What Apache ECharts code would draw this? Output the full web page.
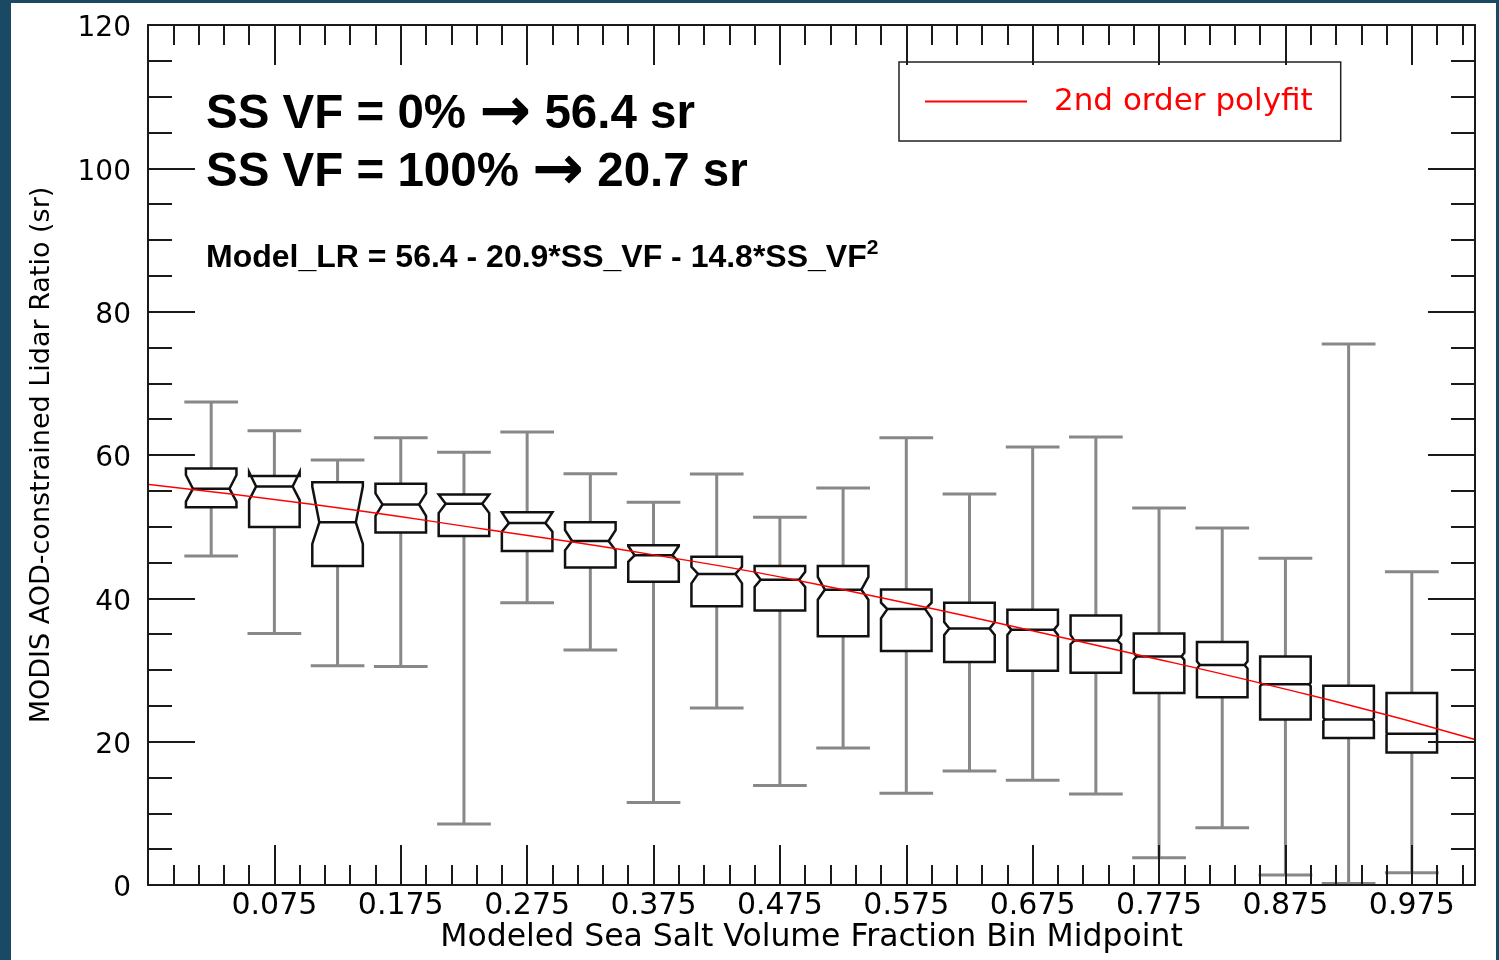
<!DOCTYPE html>
<html><head><meta charset="utf-8">
<script src="https://cdn.jsdelivr.net/npm/echarts@6/dist/echarts.min.js"></script>
<style>html,body{margin:0;padding:0;background:#fff}#c{width:1499px;height:960px}</style>
</head><body><div id="c"></div>
<script>
// ---- data ----
const binMid      = [0.025,0.075,0.125,0.175,0.225,0.275,0.325,0.375,0.425,0.475,0.525,0.575,0.625,0.675,0.725,0.775,0.825,0.875,0.925,0.975];
const whiskerLow  = [45.9, 35.1, 30.6, 30.5,  8.5, 39.4, 32.8, 11.5, 24.7, 13.9, 19.1, 12.8, 15.9, 14.6, 12.7,  3.8,  8.0,  1.4,  0.2,  1.7];
const q1          = [52.7, 49.95,44.5, 49.2, 48.7, 46.6, 44.3, 42.3, 38.9, 38.3, 34.7, 32.65,31.1, 29.9, 29.6, 26.8, 26.2, 23.1, 20.5, 18.5];
const median      = [55.3, 55.6, 50.6, 53.1, 53.2, 50.5, 48.0, 46.0, 43.4, 42.6, 41.2, 38.5, 35.8, 35.6, 34.1, 31.9, 30.7, 28.0, 23.1, 21.1];
const q3          = [58.1, 57.07,56.2, 56.0, 54.5, 52.0, 50.6, 47.4, 45.8, 44.5, 44.5, 41.25,39.4, 38.4, 37.6, 35.1, 33.9, 31.9, 27.8, 26.8];
const whiskerHigh = [67.4, 63.4, 59.3, 62.4, 60.4, 63.2, 57.4, 53.4, 57.35,51.3, 55.4, 62.4, 54.55,61.1, 62.5, 52.6, 49.8, 45.6, 75.5, 43.7];
const notchLow    = [53.5, 53.7, 47.6, 51.5, 51.9, 49.3, 46.7, 45.1, 42.1, 41.6, 39.8, 37.2, 34.9, 34.9, 33.6, 31.4, 30.2, 27.75,22.85,20.95];
const notchHigh   = [57.2, 57.6, 55.6, 54.65,54.5, 52.0, 49.5, 47.3, 44.4, 43.7, 43.0, 39.4, 36.7, 36.3, 34.9, 32.4, 31.2, 28.25,23.35,21.25];
const fitX = [-0.032, 0.106, 0.243, 0.374, 0.506, 0.759, 0.910, 1.025];
const fitY = [56.05, 53.1, 49.6, 46.1, 41.9, 32.1, 25.8, 20.3];
const fitName = '2nd order polyfit';
const xTitle = 'Modeled Sea Salt Volume Fraction Bin Midpoint';
const yTitle = 'MODIS AOD-constrained Lidar Ratio (sr)';
const note1 = ['SS VF = 0% ', '\u2192', ' 56.4 sr'];
const note2 = ['SS VF = 100% ', '\u2192', ' 20.7 sr'];
const note3 = 'Model_LR = 56.4 - 20.9*SS_VF - 14.8*SS_VF';

const boxData = binMid.map((x, i) => [x, whiskerLow[i], q1[i], median[i], q3[i], whiskerHigh[i], notchLow[i], notchHigh[i]]);
const fitData = fitX.map((x, i) => [x, fitY[i]]);

const TICK = '#1a1a1a';
const tickStyle = { color: TICK, width: 2 };
const xBase = { type: 'value', min: -0.025, max: 1.025, splitLine: { show: false }, z: 10 };
const yBase = { type: 'value', min: 0, max: 120, interval: 20, splitLine: { show: false }, z: 10 };

function renderBox(params, api) {
  const x = api.value(0);
  const c = v => api.coord([x, v]);
  const cx = c(api.value(1))[0];
  const yLow = c(api.value(1))[1], yQ1 = c(api.value(2))[1], yMed = c(api.value(3))[1];
  const yQ3 = c(api.value(4))[1], yHigh = c(api.value(5))[1];
  const yNlo = c(api.value(6))[1], yNhi = c(api.value(7))[1];
  const halfW = api.size([0.04, 0])[0] / 2;
  const capHalf = api.size([0.0425, 0])[0] / 2;
  const ind = Math.min(7, 0.8 * Math.abs(yNlo - yNhi) / 2);
  const L = cx - halfW, R = cx + halfW;
  const ws = { stroke: '#888888', lineWidth: 3 };
  const bs = { stroke: '#111111', lineWidth: 2.5, fill: '#ffffff' };
  return { type: 'group', children: [
    { type: 'line', shape: { x1: cx, y1: yQ3, x2: cx, y2: yHigh }, style: ws },
    { type: 'line', shape: { x1: cx - capHalf, y1: yHigh, x2: cx + capHalf, y2: yHigh }, style: ws },
    { type: 'line', shape: { x1: cx, y1: yQ1, x2: cx, y2: yLow }, style: ws },
    { type: 'line', shape: { x1: cx - capHalf, y1: yLow, x2: cx + capHalf, y2: yLow }, style: ws },
    { type: 'polygon', shape: { points: [[L, yQ1], [L, yNlo], [L + ind, yMed], [L, yNhi], [L, yQ3], [R, yQ3], [R, yNhi], [R - ind, yMed], [R, yNlo], [R, yQ1]] }, style: bs },
    { type: 'line', shape: { x1: L + ind, y1: yMed, x2: R - ind, y2: yMed }, style: { stroke: '#111111', lineWidth: 2.5 } }
  ]};
}

const bigRich = {
  t: { fontFamily: 'Liberation Sans', fontWeight: 'bold', fontSize: 47.5, lineHeight: 58, fill: '#000' },
  a: { fontFamily: 'DejaVu Sans', fontWeight: 'bold', fontSize: 62, lineHeight: 58, fill: '#000' }
};
const noteText = parts => '{t|' + parts[0] + '}{a|' + parts[1] + '}{t|' + parts[2] + '}';

const chart = echarts.init(document.getElementById('c'));
chart.setOption({
  backgroundColor: '#ffffff',
  animation: false,
  grid: { left: 148, right: 24, top: 25, bottom: 75, containLabel: false, outerBoundsMode: 'none' },
  xAxis: [
    Object.assign({}, xBase, {
      position: 'bottom', interval: 0.1,
      axisLine: { show: true, onZero: false, lineStyle: tickStyle },
      axisTick: { show: true, inside: true, length: 40, lineStyle: tickStyle },
      axisLabel: { show: true, margin: 6, color: '#000', fontSize: 30, fontFamily: 'DejaVu Sans',
        formatter: v => (v < 0 || v > 1) ? '' : v.toFixed(3) },
      name: xTitle, nameLocation: 'middle', nameGap: 37, nameMoveOverlap: false,
      nameTextStyle: { color: '#000', fontSize: 31.5, fontFamily: 'DejaVu Sans' }
    }),
    Object.assign({}, xBase, {
      position: 'bottom', interval: 0.02,
      axisLine: { show: false, onZero: false },
      axisTick: { show: true, inside: true, length: 20, lineStyle: tickStyle },
      axisLabel: { show: false }
    }),
    Object.assign({}, xBase, {
      position: 'top', interval: 0.1,
      axisLine: { show: true, onZero: false, lineStyle: tickStyle },
      axisTick: { show: true, inside: true, length: 40, lineStyle: tickStyle },
      axisLabel: { show: false }
    }),
    Object.assign({}, xBase, {
      position: 'top', interval: 0.02,
      axisLine: { show: false, onZero: false },
      axisTick: { show: true, inside: true, length: 20, lineStyle: tickStyle },
      axisLabel: { show: false }
    })
  ],
  yAxis: [
    Object.assign({}, yBase, {
      position: 'left',
      axisLine: { show: true, onZero: false, lineStyle: tickStyle },
      axisTick: { show: true, inside: true, length: 47, lineStyle: tickStyle },
      minorTick: { show: true, splitNumber: 4, length: 24, lineStyle: tickStyle },
      axisLabel: { show: true, margin: 17, formatter: v => '{v|' + v + '}',
        rich: { v: { color: '#000', fontSize: 28, fontFamily: 'DejaVu Sans', padding: [8, 0, 0, 0] } } },
      name: yTitle, nameLocation: 'middle', nameGap: 93, nameMoveOverlap: false,
      nameTextStyle: { color: '#000', fontSize: 27, fontFamily: 'DejaVu Sans' }
    }),
    Object.assign({}, yBase, {
      position: 'right',
      axisLine: { show: true, onZero: false, lineStyle: tickStyle },
      axisTick: { show: true, inside: true, length: 47, lineStyle: tickStyle },
      minorTick: { show: true, splitNumber: 4, length: 24, lineStyle: tickStyle },
      axisLabel: { show: false }
    })
  ],
  legend: {
    left: 899, top: 62, orient: 'horizontal', selectedMode: false,
    padding: [22, 28, 22, 26], borderColor: '#222', borderWidth: 1.5, backgroundColor: '#fff',
    itemWidth: 102, itemHeight: 2,
    data: [{ name: fitName, icon: 'rect' }],
    textStyle: { color: '#ff0000', fontSize: 31, fontFamily: 'DejaVu Sans', lineHeight: 31, padding: [4, 0, 0, 22] }
  },
  series: [
    { type: 'custom', name: 'boxes', renderItem: renderBox, data: boxData, z: 2,
      encode: { x: 0, y: [1, 2, 3, 4, 5] } },
    { type: 'line', name: fitName, data: fitData, smooth: true, symbol: 'none', clip: false,
      color: '#ff0000', lineStyle: { color: '#ff0000', width: 1.5 }, z: 5 }
  ],
  graphic: [
    { type: 'rect', left: 0, top: 0, shape: { width: 11, height: 960 }, style: { fill: '#1a4963' }, z: 100 },
    { type: 'rect', left: 0, top: 0, shape: { width: 1499, height: 3 }, style: { fill: '#1a4963' }, z: 100 },
    { type: 'rect', left: 1496, top: 0, shape: { width: 3, height: 960 }, style: { fill: '#1a4963' }, z: 100 },
    { type: 'text', x: 206, y: 115, style: { text: noteText(note1), verticalAlign: 'middle', rich: bigRich }, z: 50 },
    { type: 'text', x: 206, y: 173, style: { text: noteText(note2), verticalAlign: 'middle', rich: bigRich }, z: 50 },
    { type: 'text', x: 206, y: 256, style: {
        text: '{m|' + note3 + '}{s|2}', verticalAlign: 'middle',
        rich: {
          m: { fontFamily: 'Liberation Sans', fontWeight: 'bold', fontSize: 32, lineHeight: 36, fill: '#000', verticalAlign: 'bottom' },
          s: { fontFamily: 'Liberation Sans', fontWeight: 'bold', fontSize: 21, lineHeight: 36, fill: '#000', verticalAlign: 'top' }
        } }, z: 50 }
  ]
});
</script></body></html>
